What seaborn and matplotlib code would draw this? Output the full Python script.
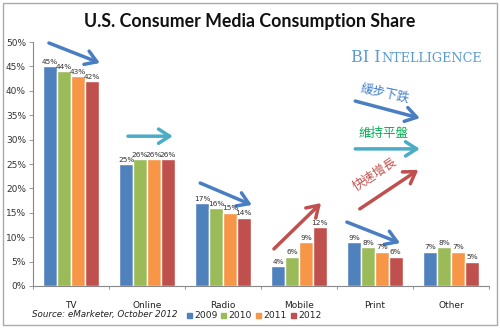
import matplotlib
matplotlib.use("Agg")
import matplotlib.pyplot as plt
import seaborn as sns
import pandas as pd
import numpy as np
from matplotlib.patches import Rectangle, FancyArrowPatch

categories = ["TV", "Online", "Radio", "Mobile", "Print", "Other"]
years = ["2009", "2010", "2011", "2012"]
v2009 = [45, 25, 17, 4, 9, 7]
v2010 = [44, 26, 16, 6, 8, 8]
v2011 = [43, 26, 15, 9, 7, 7]
v2012 = [42, 26, 14, 12, 6, 5]
colors = ["#4F81BD", "#9BBB59", "#F79646", "#C0504D"]

rows = []
for y, vals in zip(years, [v2009, v2010, v2011, v2012]):
    for c, v in zip(categories, vals):
        rows.append({"Category": c, "Year": y, "Share": v / 100})
df = pd.DataFrame(rows)

sns.set_theme(style="white")
plt.rcParams['font.family'] = ['DejaVu Sans']

fig = plt.figure(figsize=(5.0, 3.29), dpi=100)
ax = fig.add_axes([0.066, 0.1307, 0.912, 0.7416])

sns.barplot(data=df, x="Category", y="Share", hue="Year", palette=colors,
            order=categories, hue_order=years, width=0.73, saturation=1,
            ax=ax, legend=False, errorbar=None)

for cont in ax.containers:
    ax.bar_label(cont, labels=[f"{int(round(b.get_height()*100))}%" for b in cont],
                 fontsize=5.3, color="#333333", padding=1)

ax.set_ylim(0, 0.5)
ax.set_xlim(-0.5, 5.5)
ax.set_yticks(np.arange(0, 0.51, 0.05))
ax.set_yticklabels([f"{int(round(t*100))}%" for t in np.arange(0, 0.51, 0.05)],
                   fontsize=6.5, color="#333333")
ax.set_xticks(range(6))
ax.set_xticklabels(categories, fontsize=6.5, color="#222222")
ax.set_xlabel("")
ax.set_ylabel("")
for s in ["top", "right"]:
    ax.spines[s].set_visible(False)
for s in ["left", "bottom"]:
    ax.spines[s].set_color("#888888")
    ax.spines[s].set_linewidth(0.8)
ax.tick_params(axis="y", left=True, length=3, width=0.6, color="#888888", pad=2)
ax.tick_params(axis="x", bottom=False, pad=5)
for xb in np.arange(-0.5, 6.0, 1.0):
    ax.plot([xb, xb], [0, -0.006], color="#888888", lw=0.6, clip_on=False,
            transform=ax.transData)

# trend arrows
def arrow(x0, y0, x1, y1, color, lw=2.5):
    a = FancyArrowPatch((x0, y0), (x1, y1),
                        arrowstyle="->,head_length=5,head_width=3.2",
                        color=color, lw=lw, mutation_scale=1.6, clip_on=False,
                        shrinkA=0, shrinkB=0)
    ax.add_patch(a)

blue_a = "#4A7EC2"
cyan_a = "#4BACC6"
red_a = "#C0504D"
arrow(-0.29, 0.498, 0.38, 0.457, blue_a)
arrow(0.75, 0.307, 1.34, 0.307, cyan_a)
arrow(1.70, 0.211, 2.38, 0.166, blue_a)
arrow(2.67, 0.076, 3.29, 0.170, red_a)
arrow(3.63, 0.131, 4.33, 0.088, blue_a)
arrow(3.74, 0.379, 4.59, 0.344, blue_a)
arrow(3.74, 0.281, 4.59, 0.281, cyan_a)
arrow(3.80, 0.158, 4.57, 0.238, red_a)

cjk = ['Noto Sans CJK TC', 'DejaVu Sans']
fig.text(385/500, 1 - 93/329, "緩步下跌", family=cjk, fontsize=9, color="#3D7CC9",
         rotation=-12, ha="center", va="center")
fig.text(383/500, 1 - 133/329, "維持平盤", family=cjk, fontsize=9, color="#00B050",
         ha="center", va="center")
fig.text(375/500, 1 - 174/329, "快速增長", family=cjk, fontsize=9, color="#C0504D",
         rotation=33, ha="center", va="center")

# title
fig.text(0.5, 1 - 22/329, "U.S. Consumer Media Consumption Share", fontsize=12.8,
         fontweight="bold", color="#111111", ha="center", va="center",
         family=["Lato", "DejaVu Sans"])

# BI Intelligence (small caps imitation)
bi_col = "#5B9BD5"
t1 = fig.text(351/500, 1 - 62/329, "BI I", fontsize=11.5, color=bi_col,
              family=["DejaVu Serif"], ha="left", va="baseline")
fig.canvas.draw()
bb = t1.get_window_extent()
fig.text(bb.x1 / fig.bbox.width + 0.001, 1 - 62/329, "NTELLIGENCE", fontsize=9.2,
         color=bi_col, family=["DejaVu Serif"], ha="left", va="baseline")

# source
fig.text(32/500, 1 - 315/329, "Source: eMarketer, October 2012", fontsize=6.3,
         style="italic", color="#222222", ha="left", va="center")

# legend
lx = [187, 221, 256, 291]
for x, y, c in zip(lx, years, colors):
    fig.patches.append(Rectangle((x/500, 1 - 318/329), 5/500, 5/329, color=c,
                                 transform=fig.transFigure, figure=fig))
    fig.text((x + 7)/500, 1 - 315/329, y, fontsize=6.6, color="#222222",
             ha="left", va="center")

# border
fig.patches.append(Rectangle((3/500, 1 - 325/329), 494/500, 322/329, fill=False,
                             edgecolor="#AAAAAA", lw=1.0, transform=fig.transFigure,
                             figure=fig))

fig.savefig("out.png", dpi=100)
